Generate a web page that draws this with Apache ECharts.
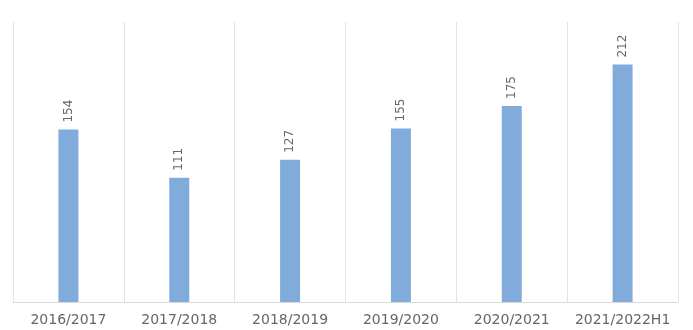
<!DOCTYPE html>
<html><head><meta charset="utf-8">
<script src="https://cdn.jsdelivr.net/npm/echarts@6/dist/echarts.min.js"></script>
<style>html,body{margin:0;padding:0;background:#fff}#c{width:693px;height:330px}</style>
</head><body><div id="c"></div>
<script>
const categories = ['2016/2017','2017/2018','2018/2019','2019/2020','2020/2021','2021/2022H1'];
const values = [154, 111, 127, 155, 175, 212];
const chart = echarts.init(document.getElementById('c'), null, {renderer:'canvas'});
chart.setOption({
  animation: false,
  grid: {left: 13, right: 15, top: 22, bottom: 28, containLabel: false},
  xAxis: {
    type: 'category', data: categories, boundaryGap: true,
    axisLine: {show: true, lineStyle: {color: '#d9d9d9', width: 1}},
    axisTick: {show: false},
    splitLine: {show: true, lineStyle: {color: '#e3e3e3', width: 1}},
    axisLabel: {color: '#666666', fontSize: 14, fontFamily: 'DejaVu Sans', margin: 11, interval: 0}
  },
  yAxis: {
    type: 'value', min: 0, max: 250, show: false,
    splitLine: {show: false}
  },
  series: [{
    type: 'bar', data: values, barWidth: 20,
    itemStyle: {color: '#80abdb'},
    label: {show: true, position: 'top', rotate: 90, align: 'left', verticalAlign: 'middle', distance: 7,
      color: '#666666', fontSize: 12, fontFamily: 'DejaVu Sans'}
  }]
});
</script></body></html>
